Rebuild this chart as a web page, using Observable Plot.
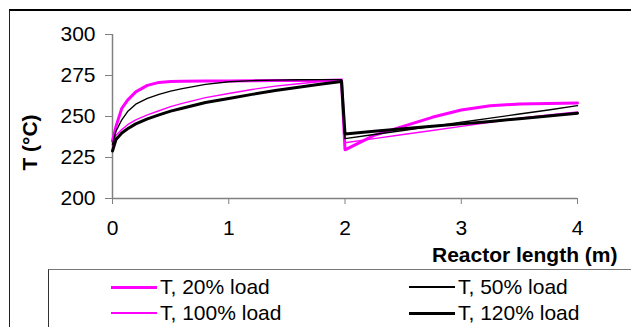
<!DOCTYPE html>
<html>
<head>
<meta charset="utf-8">
<script src="https://cdn.jsdelivr.net/npm/d3@7"></script>
<script src="https://cdn.jsdelivr.net/npm/@observablehq/plot@0.6"></script>
<style>
  body { margin: 0; background: #fff; font-family: "Liberation Sans", Arial, sans-serif; }
  #wrap { position: relative; width: 631px; height: 327px; overflow: hidden; background: #fff; }
  #frame { position: absolute; left: 9px; top: 9px; width: 700px; height: 400px; border-top: 2px solid #000; border-left: 1px solid #222; }
  #chart { position: absolute; left: 0; top: 0; }
  #legend { position: absolute; left: 48px; top: 269px; width: 700px; height: 200px; border-top: 1px solid #777; border-left: 1px solid #333; background: #fff; }
  .item { position: absolute; font-size: 21px; color: #000; white-space: nowrap; line-height: 24px; }
  .sw { position: absolute; }
</style>
</head>
<body>
<div id="wrap">
  <div id="frame"></div>
  <div id="chart"></div>
  <div id="legend"></div>
</div>
<script>
// Segment before the drop (reactor part 1)
const xs1 = [0, 0.03, 0.08, 0.13, 0.2, 0.3, 0.4, 0.5, 0.6, 0.8, 1.0, 1.2, 1.4, 1.6, 1.8, 1.97];
// Segment after the drop (reactor part 2)
const xs2 = [2.0, 2.25, 2.5, 2.75, 3.0, 3.25, 3.5, 3.75, 4.0];

const seriesNames = ["T, 20% load", "T, 100% load", "T, 50% load", "T, 120% load"];

const t20_1  = [235, 244, 255, 260, 265, 269, 270.8, 271.4, 271.5, 271.6, 271.7, 271.8, 271.9, 272, 272, 272.2];
const t20_2  = [229.7, 238.5, 244, 249.5, 254, 256.5, 257.6, 258, 258.2];
const t50_1  = [233, 241, 248, 253, 257.5, 261, 263.5, 265.5, 267, 269.6, 271.2, 271.9, 272.2, 272.4, 272.5, 272.5];
const t50_2  = [236.5, 239, 241.5, 244, 246.5, 249, 251.5, 254, 256.6];
const t100_1 = [232, 238.5, 242, 245, 248, 251, 253.5, 256, 258, 261.5, 264, 266.5, 268.5, 270, 271.3, 272];
const t100_2 = [234, 236.5, 239, 241.5, 244, 246.5, 249, 251, 252.8];
const t120_1 = [229, 236, 240, 242.5, 245.5, 248.5, 251, 253.3, 255, 258.5, 261, 263.5, 265.8, 267.8, 269.8, 271.4];
const t120_2 = [239.4, 241, 242.5, 244, 245.5, 247, 248.7, 250.3, 252];

const xTicks = [0, 1, 2, 3, 4];
const yTicks = [200, 225, 250, 275, 300];
const xLabel = "Reactor length (m)";
const yLabel = "T (°C)";

const styles = {
  "T, 20% load":  {color: "#ff00ff", width: 3},
  "T, 100% load": {color: "#ff00ff", width: 1.4},
  "T, 50% load":  {color: "#000000", width: 1.4},
  "T, 120% load": {color: "#000000", width: 3}
};

const seriesData = {
  "T, 20% load":  [t20_1, t20_2],
  "T, 100% load": [t100_1, t100_2],
  "T, 50% load":  [t50_1, t50_2],
  "T, 120% load": [t120_1, t120_2]
};

function rows(name) {
  const [a, b] = seriesData[name];
  return xs1.map((x, i) => ({x, y: a[i], s: name}))
    .concat(xs2.map((x, i) => ({x, y: b[i], s: name})));
}

const lineMarks = seriesNames.map(name =>
  Plot.line(rows(name), {x: "x", y: "y", stroke: styles[name].color, strokeWidth: styles[name].width, strokeLinejoin: "round"})
);

const chart = Plot.plot({
  width: 631,
  height: 327,
  marginLeft: 112,
  marginRight: 54,
  marginTop: 34,
  marginBottom: 129,
  style: {fontFamily: "'Liberation Sans', Arial, sans-serif", fontSize: "21px", background: "transparent", color: "#000"},
  x: {domain: [0, 4]},
  y: {domain: [200, 300]},
  marks: [
    Plot.ruleX([0], {stroke: "#808080", strokeWidth: 1.5}),
    Plot.ruleY([200], {stroke: "#808080", strokeWidth: 1.5}),
    Plot.axisY({ticks: yTicks, tickSize: 7, tickPadding: 10, stroke: "#808080", fill: "#000", fontSize: 21, label: null}),
    Plot.axisX({ticks: xTicks, tickSize: 6, tickPadding: 16, stroke: "#808080", fill: "#000", fontSize: 21, label: null, tickFormat: d3.format("d")}),
    ...lineMarks,
    Plot.text([yLabel], {frameAnchor: "left", textAnchor: "middle", lineAnchor: "middle", rotate: -90, dx: -82, dy: 26, fontWeight: "bold", fontSize: 21, fill: "#000"}),
    Plot.text([xLabel], {frameAnchor: "bottom-right", textAnchor: "end", lineAnchor: "middle", dx: 40, dy: 57, fontWeight: "bold", fontSize: 21, fill: "#000"})
  ]
});
document.getElementById("chart").appendChild(chart);

// Legend (positions relative to legend box)
const legendLayout = [
  {name: "T, 20% load",  left: 62,  top: 17},
  {name: "T, 50% load",  left: 360, top: 17},
  {name: "T, 100% load", left: 62,  top: 43},
  {name: "T, 120% load", left: 360, top: 43}
];
const legend = document.getElementById("legend");
legendLayout.forEach(({name, left, top}) => {
  const st = styles[name];
  const sw = document.createElement("div");
  sw.className = "sw";
  sw.style.left = left + "px";
  sw.style.top = (top - st.width / 2) + "px";
  sw.style.width = "46px";
  sw.style.height = st.width + "px";
  sw.style.background = st.color;
  legend.appendChild(sw);
  const tx = document.createElement("div");
  tx.className = "item";
  tx.style.left = (left + 49) + "px";
  tx.style.top = (top - 12) + "px";
  tx.textContent = name;
  legend.appendChild(tx);
});
</script>
</body>
</html>
